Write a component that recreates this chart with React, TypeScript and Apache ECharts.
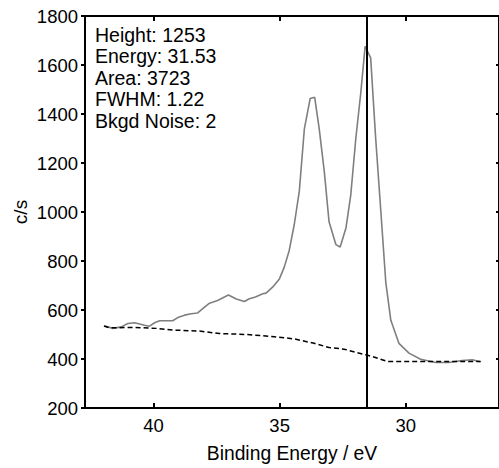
import React, { useEffect, useRef } from "react";
import * as echarts from "echarts";

const spectrumEnergy = [41.94, 41.61, 41.28, 41.02, 40.75, 40.36, 40.16, 39.96, 39.76, 39.24, 39.04, 38.77, 38.51, 38.25, 37.98, 37.78, 37.46, 37.19, 37.03, 36.72, 36.40, 36.20, 35.96, 35.67, 35.54, 35.28, 35.01, 34.82, 34.62, 34.42, 34.22, 34.02, 33.79, 33.61, 33.43, 33.23, 33.04, 32.77, 32.60, 32.37, 32.18, 31.98, 31.78, 31.61, 31.39, 31.19, 30.99, 30.79, 30.59, 30.27, 29.87, 29.41, 28.81, 28.29, 27.76, 27.36, 27.03];
const spectrumCounts = [535, 525, 531, 545, 548, 538, 534, 548, 556, 556, 569, 579, 585, 588, 612, 628, 639, 653, 661, 645, 635, 646, 653, 666, 669, 693, 727, 774, 843, 949, 1085, 1339, 1463, 1468, 1339, 1166, 960, 867, 857, 935, 1069, 1299, 1488, 1676, 1629, 1299, 1008, 713, 558, 464, 424, 399, 386, 386, 394, 397, 389];

const backgroundEnergy = [41.97, 41.74, 40.82, 39.89, 39.24, 38.18, 37.39, 36.27, 35.21, 34.42, 33.63, 33.04, 32.44, 31.92, 31.58, 31.32, 30.73, 29.60, 28.29, 27.03];
const backgroundCounts = [535, 527, 529, 525, 518, 514, 504, 500, 491, 482, 464, 447, 440, 426, 417, 410, 390, 390, 390, 390];

const peakEnergy = 31.53;
const xTickValues = [30, 35, 40];
const annotationLines = ["Height: 1253", "Energy: 31.53", "Area: 3723", "FWHM: 1.22", "Bkgd Noise: 2"];

const FONT = "Liberation Sans";

export default function App() {
  const ref = useRef<HTMLDivElement>(null);
  useEffect(() => {
    if (!ref.current) return;
    const chart = echarts.init(ref.current, null, { renderer: "svg" });
    const axisLine = { show: true, lineStyle: { color: "#000", width: 2 } };
    const xCommon = {
      type: "value" as const,
      min: 26.3,
      max: 42.72,
      inverse: true,
      splitLine: { show: false },
      axisLine,
    };
    chart.setOption({
      animation: false,
      backgroundColor: "#fff",
      grid: { left: 85, top: 16, width: 415, height: 396, containLabel: false },
      xAxis: [
        {
          ...xCommon,
          position: "bottom",
          axisTick: { show: true, inside: true, length: 5, customValues: xTickValues, lineStyle: { color: "#000", width: 2 } },
          axisLabel: { show: true, customValues: xTickValues, margin: 8, color: "#000", fontSize: 18.5, fontFamily: FONT, formatter: (v: number) => String(v) },
          name: "Binding Energy / eV",
          nameLocation: "middle",
          nameGap: 36,
          nameMoveOverlap: false,
          nameTextStyle: { color: "#000", fontSize: 19.3, fontFamily: FONT },
        },
        {
          ...xCommon,
          position: "top",
          axisTick: { show: true, inside: true, length: 5, customValues: xTickValues, lineStyle: { color: "#000", width: 2 } },
          axisLabel: { show: false },
        },
      ],
      yAxis: [
        {
          type: "value",
          position: "left",
          min: 200,
          max: 1800,
          interval: 200,
          splitLine: { show: false },
          axisLine,
          axisTick: { show: true, inside: false, length: 4, lineStyle: { color: "#000", width: 2 } },
          axisLabel: { show: true, margin: 7, color: "#000", fontSize: 18.5, fontFamily: FONT, showMinLabel: true, showMaxLabel: true, formatter: (v: number) => String(v) },
          name: "c/s",
          nameLocation: "middle",
          nameRotate: 90,
          nameGap: 55,
          nameMoveOverlap: false,
          nameTextStyle: { color: "#000", fontSize: 19, fontFamily: FONT },
        },
        {
          type: "value",
          position: "right",
          min: 200,
          max: 1800,
          interval: 200,
          splitLine: { show: false },
          axisLine,
          axisTick: { show: true, inside: true, length: 3, lineStyle: { color: "#000", width: 2 } },
          axisLabel: { show: false },
        },
      ],
      graphic: [
        {
          type: "text",
          left: 95,
          top: 24,
          style: {
            text: annotationLines.join("\n"),
            font: `19.5px "${FONT}"`,
            fill: "#000",
            lineHeight: 21.5,
          },
        },
      ],
      series: [
        {
          type: "line",
          xAxisIndex: 0,
          yAxisIndex: 0,
          symbol: "none",
          data: spectrumEnergy.map((e, i) => [e, spectrumCounts[i]]),
          lineStyle: { color: "#7f7f7f", width: 1.6 },
          markLine: {
            silent: true,
            symbol: "none",
            label: { show: false },
            lineStyle: { color: "#000", width: 2, type: "solid" },
            data: [{ xAxis: peakEnergy }],
          },
        },
        {
          type: "line",
          xAxisIndex: 0,
          yAxisIndex: 0,
          symbol: "none",
          data: backgroundEnergy.map((e, i) => [e, backgroundCounts[i]]),
          lineStyle: { color: "#000", width: 1.5, type: [5, 3] },
        },
      ],
    });
    return () => chart.dispose();
  }, []);
  return <div ref={ref} style={{ position: "absolute", left: 0, top: 0, width: 499, height: 468 }} />;
}
